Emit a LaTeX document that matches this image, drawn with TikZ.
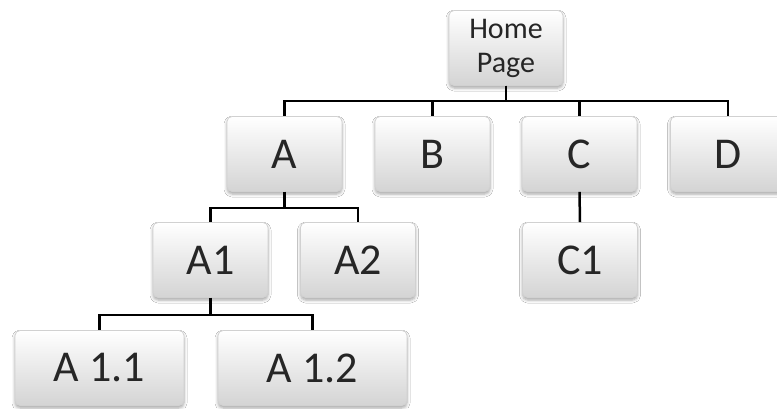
\documentclass[tikz,border=0pt]{standalone}
\usepackage{fontspec}
\setmainfont{Carlito}
\usetikzlibrary{shadows.blur}
\begin{document}
\begin{tikzpicture}[x=1pt,y=-1pt,
  page/.style={
    rectangle, rounded corners=5pt, draw=black!18, line width=0.8pt,
    top color=white, bottom color=black!17,
    minimum height=75pt, text=black!85, inner sep=0pt,
    blur shadow={shadow xshift=0pt, shadow yshift=-2.5pt,
                 shadow blur radius=3pt, shadow opacity=35},
    font=\fontsize{44}{48}\selectfont},
  link/.style={draw=black, line width=2.5pt}]
\useasboundingbox[fill=white] (0,0) rectangle (777,408);

% top level
\node[page, minimum width=114pt, align=center, font=\fontsize{30}{34}\selectfont]
  (home) at (506,48) {Home\\Page};

% first level
\node[page, minimum width=115pt] (A) at (284.5,154) {A};
\node[page, minimum width=115pt] (B) at (432.5,154) {B};
\node[page, minimum width=115pt] (C) at (579.5,154) {C};
\node[page, minimum width=115pt] (D) at (728,154) {D};

% second level
\node[page, minimum width=115pt] (A1) at (210.5,260) {A1};
\node[page, minimum width=115pt] (A2) at (358,260) {A2};
\node[page, minimum width=115pt] (C1) at (580,260) {C1};

% third level
\node[page, minimum width=169pt] (A11) at (99.5,368) {A 1.1};
\node[page, minimum width=189pt] (A12) at (312.5,368) {A 1.2};

% connectors
\foreach \c in {A,B,C,D}
  \draw[link] (home.south) -- ++(0,15) -| (\c.north);
\foreach \c in {A1,A2}
  \draw[link] (A.south) -- ++(0,16) -| (\c.north);
\foreach \c in {A11,A12}
  \draw[link] (A1.south) -- ++(0,17) -| (\c.north);
\draw[link] (C.south) -- (C1.north);
\end{tikzpicture}
\end{document}
